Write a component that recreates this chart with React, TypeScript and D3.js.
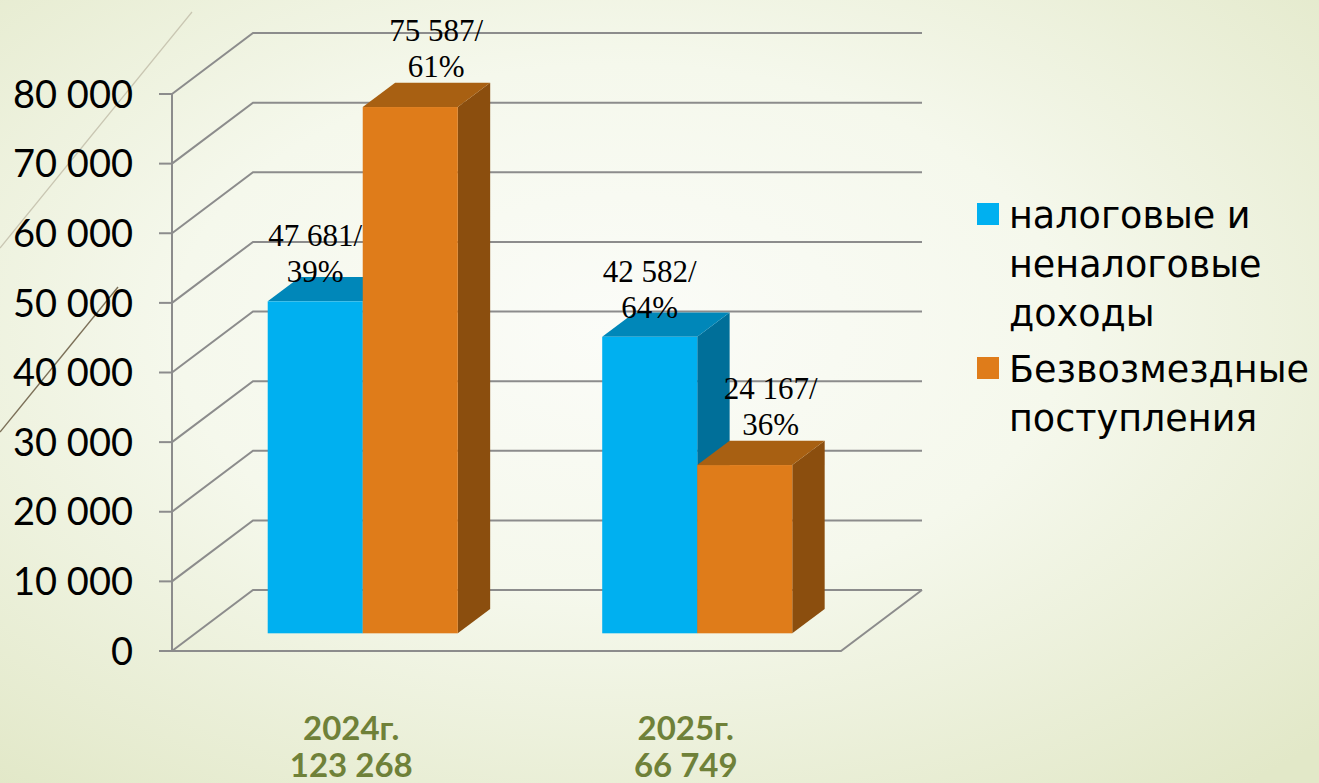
import React from "react";
import * as d3 from "d3";

// ---------- data ----------
const categories = ["2024г.", "2025г."];
const categoryTotals = ["123 268", "66 749"];
const seriesKeys = ["tax", "grants"];
const seriesLegend = [
  ["налоговые и", "неналоговые", "доходы"],
  ["Безвозмездные", "поступления"],
];
const taxValues = [47681, 42582];
const grantValues = [75587, 24167];
const taxShares = [39, 64];
const grantShares = [61, 36];
const yTicks = [0, 10000, 20000, 30000, 40000, 50000, 60000, 70000, 80000];

// ---------- styling ----------
const W = 1319;
const H = 783;
const faceColors = [
  { front: "#00B0F0", top: "#0087B9", side: "#006F99" },
  { front: "#DF7C1A", top: "#A86012", side: "#8B4E0E" },
];
const gridColor = "#8C8C8C";
const DEPTH_X = 81;
const DEPTH_Y = -61;
const BAR_FRONT = 0.29;
const BAR_DEPTH = 0.4;

const loc = d3.formatLocale({ thousands: " ", grouping: [3], decimal: ",", currency: ["", ""] });
const fmt = loc.format(",");

export default function App() {
  const values = [taxValues, grantValues];
  const shares = [taxShares, grantShares];

  const y = d3.scaleLinear().domain([0, 80000]).range([651, 94]);
  const x0 = d3.scaleBand<string>().domain(categories).range([172, 841]).paddingInner(0).paddingOuter(0);
  const x1 = d3.scaleBand<string>().domain(seriesKeys).range([0, x0.bandwidth()]).paddingInner(0).paddingOuter(0.76);

  const xL = 172;
  const xR = 841;
  const backR = xR + DEPTH_X;
  const fdx = DEPTH_X * BAR_FRONT;
  const fdy = DEPTH_Y * BAR_FRONT;
  const bdx = DEPTH_X * BAR_DEPTH;
  const bdy = DEPTH_Y * BAR_DEPTH;

  const bars: any[] = [];
  const labels: any[] = [];
  categories.forEach((cat, ci) => {
    seriesKeys.forEach((key, si) => {
      const v = values[si][ci];
      const xa = (x0(cat) as number) + (x1(key) as number) + fdx;
      const xb = xa + x1.bandwidth();
      const yb = y(0) + fdy;
      const yt = y(v) + fdy;
      const c = faceColors[si];
      bars.push(
        <g key={`b-${ci}-${si}`}>
          <polygon
            points={`${xb},${yt} ${xb + bdx},${yt + bdy} ${xb + bdx},${yb + bdy} ${xb},${yb}`}
            fill={c.side}
          />
          <polygon
            points={`${xa},${yt} ${xa + bdx},${yt + bdy} ${xb + bdx},${yt + bdy} ${xb},${yt}`}
            fill={c.top}
          />
          <rect x={xa} y={yt} width={xb - xa} height={yb - yt} fill={c.front} />
        </g>
      );
      const lx = (xa + xb) / 2 + (si === 0 ? 0 : 26);
      const ly2 = yt - (si === 0 ? 19 : 30);
      labels.push(
        <text
          key={`l-${ci}-${si}`}
          x={lx}
          textAnchor="middle"
          fontFamily="'Liberation Serif', 'Times New Roman', serif"
          fontSize={31}
          fill="#000"
        >
          <tspan x={lx} y={ly2 - 36}>{`${fmt(v)}/`}</tspan>
          <tspan x={lx} y={ly2}>{`${shares[si][ci]}%`}</tspan>
        </text>
      );
    });
  });

  return (
    <svg
      width={W}
      height={H}
      style={{ position: "absolute", left: 0, top: 0, display: "block" }}
    >
      <defs>
        <radialGradient id="bg" cx="0.47" cy="0.42" r="0.75">
          <stop offset="0" stopColor="#FBFCF8" />
          <stop offset="0.45" stopColor="#F5F8EC" />
          <stop offset="1" stopColor="#E2E8C8" />
        </radialGradient>
      </defs>
      <rect x={0} y={0} width={W} height={H} fill="url(#bg)" />

      {/* decorative theme lines */}
      <line x1={192} y1={12} x2={0} y2={248} stroke="#C9C6B2" strokeWidth={1.2} />
      <line x1={118} y1={287} x2={0} y2={432} stroke="#7C7058" strokeWidth={1.4} />

      {/* side wall + back wall grid */}
      {yTicks.map((t) => (
        <polyline
          key={`g-${t}`}
          points={`${xL},${y(t)} ${xL + DEPTH_X},${y(t) + DEPTH_Y} ${backR},${y(t) + DEPTH_Y}`}
          fill="none"
          stroke={gridColor}
          strokeWidth={2}
        />
      ))}
      {/* floor front edge */}
      <polyline
        points={`${xL},${y(0)} ${xR},${y(0)} ${backR},${y(0) + DEPTH_Y}`}
        fill="none"
        stroke={gridColor}
        strokeWidth={2}
      />
      {/* vertical axis and ticks */}
      <line x1={xL} y1={y(80000)} x2={xL} y2={y(0)} stroke={gridColor} strokeWidth={2} />
      {yTicks.map((t) => (
        <line key={`t-${t}`} x1={xL - 13} y1={y(t)} x2={xL} y2={y(t)} stroke={gridColor} strokeWidth={2} />
      ))}
      {yTicks.map((t) => (
        <text
          key={`yl-${t}`}
          x={133}
          y={y(t)}
          dy="0.36em"
          textAnchor="end"
          fontFamily="Lato, 'Liberation Sans', sans-serif"
          fontSize={38}
          fill="#000"
        >
          {fmt(t)}
        </text>
      ))}

      {bars}
      {labels}

      {/* category labels */}
      {categories.map((c, i) => {
        const cx = (x0(c) as number) + x0.bandwidth() / 2 + 12;
        return (
          <text
            key={`c-${i}`}
            textAnchor="middle"
            fontFamily="Lato, 'Liberation Sans', sans-serif"
            fontWeight={700}
            fontSize={33}
            fill="#6F8139"
          >
            <tspan x={cx} y={740}>{c}</tspan>
            <tspan x={cx} y={777}>{categoryTotals[i]}</tspan>
          </text>
        );
      })}

      {/* legend */}
      {(() => {
        let yy = 228;
        return seriesLegend.map((lines, si) => {
          const top = yy;
          const g = (
            <g key={`lg-${si}`}>
              <rect x={977} y={top - 25} width={22} height={22} fill={faceColors[si].front} />
              <text fontFamily="'DejaVu Sans', sans-serif" fontSize={36.5} fill="#000">
                {lines.map((ln, li) => (
                  <tspan key={li} x={1009} y={top + li * 49}>
                    {ln}
                  </tspan>
                ))}
              </text>
            </g>
          );
          yy = top + (lines.length - 1) * 49 + 56;
          return g;
        });
      })()}
    </svg>
  );
}
